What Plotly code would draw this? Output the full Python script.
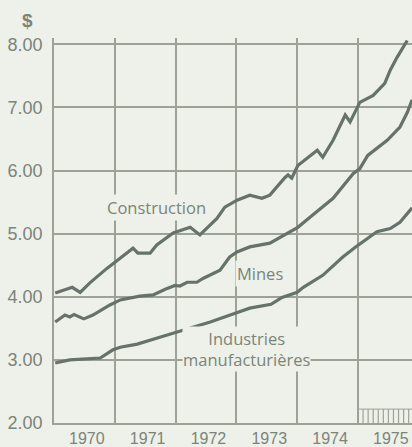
import plotly.graph_objects as go

# ---- data (x in decimal years) ----
constr_t = [1970.02, 1970.30, 1970.43, 1970.59, 1970.87, 1971.00, 1971.25, 1971.30, 1971.38,
            1971.58, 1971.69, 1971.96, 1972.24, 1972.40, 1972.68, 1972.81, 1973.01, 1973.22,
            1973.42, 1973.55, 1973.80, 1973.85, 1973.91, 1974.01, 1974.33, 1974.42, 1974.59,
            1974.79, 1974.87, 1974.95, 1975.03, 1975.25, 1975.44, 1975.53, 1975.64, 1975.81]
constr_v = [4.06, 4.15, 4.07, 4.22, 4.45, 4.55, 4.74, 4.77, 4.69,
            4.69, 4.82, 5.01, 5.10, 4.98, 5.24, 5.42, 5.53, 5.61,
            5.56, 5.61, 5.89, 5.93, 5.88, 6.08, 6.32, 6.21, 6.48,
            6.88, 6.77, 6.92, 7.08, 7.19, 7.38, 7.59, 7.79, 8.06]

mines_t = [1970.02, 1970.18, 1970.26, 1970.33, 1970.49, 1970.64, 1970.92, 1971.09, 1971.41,
           1971.63, 1971.83, 1971.99, 1972.07, 1972.19, 1972.35, 1972.45, 1972.73, 1972.89,
           1973.01, 1973.22, 1973.55, 1973.83, 1974.01, 1974.21, 1974.59, 1974.92, 1975.03,
           1975.16, 1975.48, 1975.69, 1975.81, 1975.89]
mines_v = [3.60, 3.71, 3.68, 3.72, 3.65, 3.71, 3.87, 3.95, 4.01,
           4.03, 4.12, 4.18, 4.17, 4.23, 4.23, 4.29, 4.42, 4.63,
           4.71, 4.79, 4.85, 5.01, 5.10, 5.26, 5.56, 5.95, 6.03,
           6.24, 6.48, 6.69, 6.92, 7.12]

manuf_t = [1970.02, 1970.26, 1970.76, 1970.97, 1971.09, 1971.37, 1971.74, 1972.02, 1972.24,
           1972.57, 1972.98, 1973.22, 1973.57, 1973.75, 1974.00, 1974.10, 1974.42, 1974.75,
           1974.95, 1975.31, 1975.53, 1975.69, 1975.89]
manuf_v = [2.95, 3.00, 3.03, 3.16, 3.20, 3.25, 3.36, 3.44, 3.50,
           3.60, 3.74, 3.82, 3.88, 3.99, 4.07, 4.15, 4.34, 4.63,
           4.78, 5.03, 5.08, 5.18, 5.41]

years = [1970, 1971, 1972, 1973, 1974, 1975]
year_labels = ["1970", "1971", "1972", "1973", "1974", "1975"]
y_ticks = [2, 3, 4, 5, 6, 7, 8]
y_labels = ["2.00", "3.00", "4.00", "5.00", "6.00", "7.00", "8.00"]
months_1975 = [1975 + m / 12 for m in range(0, 12)]

# ---- style ----
BG = "#eef1e9"
GRID = "#9ba296"
LINE = "#66726a"
TXT = "#7b8479"

fig = go.Figure()
for t, v in [(constr_t, constr_v), (mines_t, mines_v), (manuf_t, manuf_v)]:
    fig.add_trace(go.Scatter(x=t, y=v, mode="lines",
                             line=dict(color=LINE, width=3.2), hoverinfo="skip"))

# hatch marks along the bottom of 1975
hx, hy = [], []
for m in months_1975:
    hx += [m, m, None]
    hy += [2, 2.22, None]
fig.add_trace(go.Scatter(x=hx, y=hy, mode="lines",
                         line=dict(color=GRID, width=1.2), hoverinfo="skip"))
fig.add_trace(go.Scatter(x=[months_1975[0], months_1975[-1] + 1 / 12], y=[2.22, 2.22], mode="lines",
                         line=dict(color=GRID, width=1), hoverinfo="skip"))

fig.update_layout(
    width=412, height=447,
    margin=dict(l=54, r=0, t=38, b=24),
    paper_bgcolor=BG, plot_bgcolor=BG,
    showlegend=False,
    font=dict(family="Liberation Sans, Arial, sans-serif", size=18, color=TXT),
    xaxis=dict(
        range=[1970, 1975.888], automargin=False,
        tickvals=[y + 0.54 for y in years], ticktext=year_labels,
        tickfont=dict(size=16),
        showgrid=False, zeroline=False, ticks="", ticklabelstandoff=0,
        showline=True, linecolor=GRID, linewidth=1.5,
        minor=dict(tickvals=years[1:], showgrid=True, gridcolor=GRID, gridwidth=1.5),
        fixedrange=True,
    ),
    yaxis=dict(
        range=[2, 8.1], automargin=False,
        tickvals=y_ticks, ticktext=y_labels,
        showgrid=True, gridcolor=GRID, gridwidth=1.5,
        zeroline=False, ticks="", ticklabelstandoff=6,
        showline=True, linecolor=GRID, linewidth=1.5,
        fixedrange=True,
    ),
    annotations=[
        dict(text="<b>$</b>", xref="paper", yref="paper", x=-0.075, y=1.012,
             xanchor="center", yanchor="bottom", showarrow=False,
             font=dict(size=19, color=TXT, family="Liberation Sans, Arial, sans-serif")),
        dict(text="Construction", x=1971.69, y=5.42, xref="x", yref="y", showarrow=False,
             bgcolor=BG, borderpad=1,
             font=dict(size=16.5, color=TXT, family="Open Sans, sans-serif")),
        dict(text="Mines", x=1973.39, y=4.37, xref="x", yref="y", showarrow=False,
             bgcolor=BG, borderpad=1,
             font=dict(size=16.5, color=TXT, family="Open Sans, sans-serif")),
        dict(text="Industries<br>manufacturières", x=1973.17, y=3.17, xref="x", yref="y",
             showarrow=False, bgcolor=BG, borderpad=0,
             font=dict(size=16.5, color=TXT, family="Open Sans, sans-serif")),
    ],
)

fig.write_html("out.html", config={"displayModeBar": False},
               post_script="document.body.style.margin='0';document.body.style.background='%s';" % BG)
